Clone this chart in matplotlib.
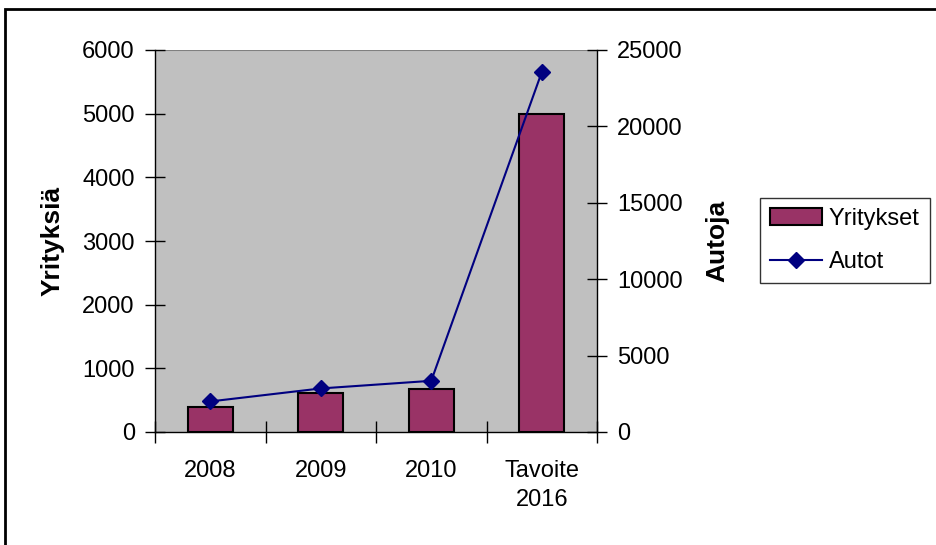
import numpy as np
import matplotlib.pyplot as plt
from matplotlib.patches import Rectangle

plt.rcParams['font.family'] = ['Liberation Sans', 'DejaVu Sans']

# Data
categories = ['2008', '2009', '2010', 'Tavoite\n2016']
yritykset = [400, 620, 680, 5000]
autot = [2000, 2850, 3350, 23550]

W, H = 936, 545
fig = plt.figure(figsize=(W / 100, H / 100), dpi=100)
fs = 17

# plot area in pixels: x 155..597, y 50..432
ax = fig.add_axes([155 / W, 1 - 432 / H, (597 - 155) / W, (432 - 50) / H])
ax.set_facecolor('#C0C0C0')

x = np.arange(len(categories))
bars = ax.bar(x, yritykset, width=0.41, color='#993366', edgecolor='black',
              linewidth=1.5, label='Yritykset', zorder=2)

ax.set_xlim(-0.5, len(categories) - 0.5)
ax.set_ylim(0, 6000)
ax.set_yticks(np.arange(0, 6001, 1000))
ax.set_xticks(np.arange(-0.5, len(categories), 1.0))
ax.set_xticklabels([])
ax.set_xticks(x, minor=True)
ax.set_xticklabels(categories, minor=True, linespacing=1.4)
ax.tick_params(axis='x', which='major', direction='inout', length=16, width=1)
ax.tick_params(axis='x', which='minor', length=0, pad=20, labelsize=fs)
ax.tick_params(axis='y', direction='inout', length=14, width=1, labelsize=fs, pad=7.5)
ax.set_ylabel('Yrityksiä', fontsize=19, fontweight='bold', labelpad=13)

for s in ['top', 'right']:
    ax.spines[s].set_visible(False)
ax.spines['left'].set_linewidth(1)
ax.spines['bottom'].set_linewidth(1)

ax2 = ax.twinx()
line, = ax2.plot(x, autot, color='#000080', marker='D', markersize=8.5,
                 linewidth=1.5, label='Autot', zorder=3)
ax2.set_ylim(0, 25000)
ax2.set_yticks(np.arange(0, 25001, 5000))
ax2.tick_params(axis='y', direction='inout', length=14, width=1, labelsize=fs, pad=7.5)
ax2.set_ylabel('Autoja', fontsize=19, fontweight='bold', labelpad=16)
for s in ['top', 'left', 'bottom']:
    ax2.spines[s].set_visible(False)
ax2.spines['right'].set_linewidth(1)

# top edge of the plot area (gray line)
ax.axhline(6000, color='#808080', linewidth=1.5, zorder=1)

leg = fig.legend([bars, line], ['Yritykset', 'Autot'],
                 loc='upper left', bbox_to_anchor=(760 / W, 1 - 198 / H),
                 frameon=True, fancybox=False, edgecolor='black',
                 fontsize=fs, handlelength=2.2, borderpad=0.42,
                 labelspacing=0.9, handletextpad=0.3, borderaxespad=0)
leg.get_frame().set_linewidth(1)

# outer chart border
fig.patches.append(Rectangle((5 / W, -0.1), 1.2, 1.1 - 9 / H,
                             transform=fig.transFigure, fill=False,
                             edgecolor='black', linewidth=2, clip_on=False))

fig.savefig('out.png', dpi=100)
